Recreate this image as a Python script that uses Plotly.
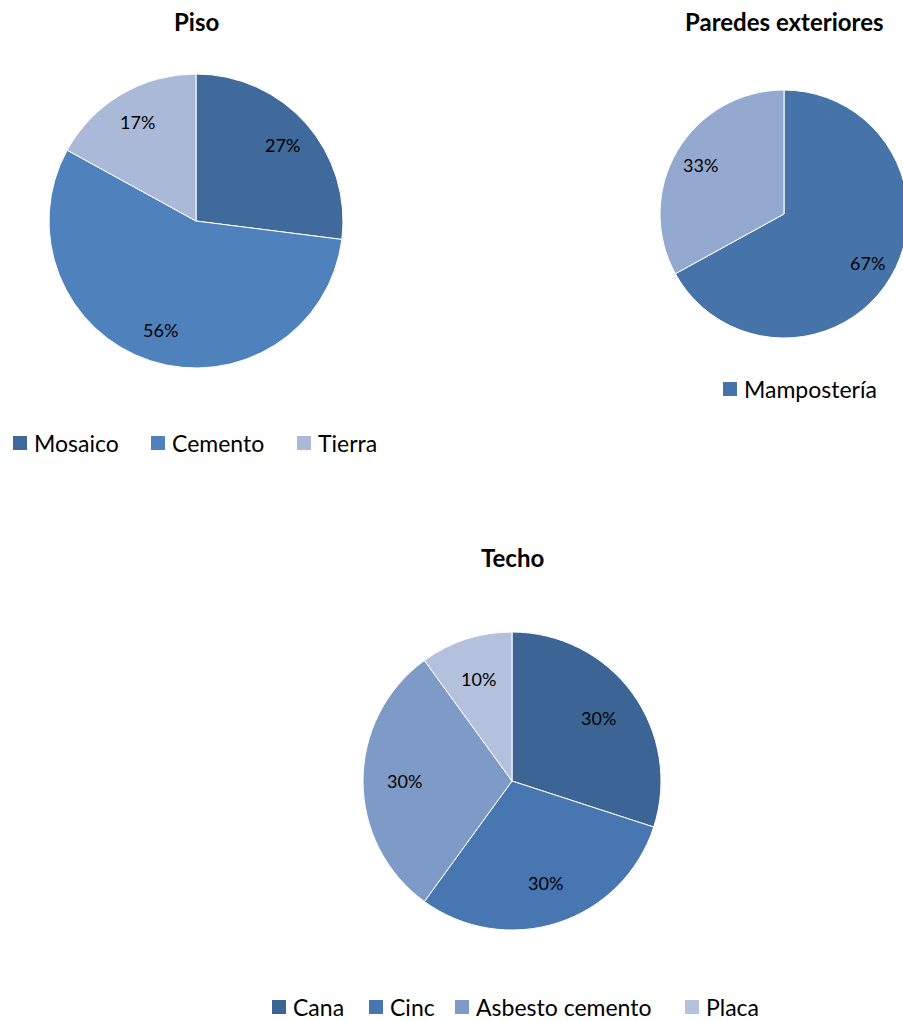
import math
import plotly.graph_objects as go

W, H = 910, 1021  # figure slightly wider than the window: right pie is cut at the edge

# ---- data ----
piso_labels = ["Mosaico", "Cemento", "Tierra"]
piso_values = [27, 56, 17]
piso_colors = ["#3F6A9B", "#4F81BD", "#AAB9D7"]

paredes_labels = ["Mampostería", ""]
paredes_values = [67, 33]
paredes_colors = ["#4674A8", "#93A9CF"]

techo_labels = ["Cana", "Cinc", "Asbesto cemento", "Placa"]
techo_values = [30, 30, 30, 10]
techo_colors = ["#3C6596", "#4776B0", "#7E9BC8", "#B3C1DD"]

FONT = "Lato"


def px(x):
    return x / W


def py(y):
    return 1 - y / H


def dom(cx, cy, r):
    return dict(x=[px(cx - r), px(cx + r)], y=[py(cy + r), py(cy - r)])


annotations = []
shapes = []


def add_pie(fig, labels, values, colors, cx, cy, r, frac=0.78):
    fig.add_trace(go.Pie(
        labels=[l if l else " " for l in labels], values=values, sort=False,
        direction="clockwise", rotation=0, domain=dom(cx, cy, r),
        marker=dict(colors=colors, line=dict(color="white", width=1)),
        textinfo="none", showlegend=False, hoverinfo="label+percent",
    ))
    # data labels placed like Excel's (percent of total at the slice mid-angle)
    total = sum(values)
    cum = 0
    for v in values:
        mid = (cum + v / 2) / total * 2 * math.pi
        cum += v
        lx = cx + frac * r * math.sin(mid)
        ly = cy - frac * r * math.cos(mid)
        annotations.append(dict(text=f"{round(100 * v / total)}%", x=px(lx), y=py(ly),
                                xref="paper", yref="paper", showarrow=False,
                                xanchor="center", yanchor="middle",
                                font=dict(family=FONT, size=18, color="black")))


def title(text, x, y):
    annotations.append(dict(text=f"<b>{text}</b>", x=px(x), y=py(y), xref="paper", yref="paper",
                            showarrow=False, xanchor="center", yanchor="middle",
                            font=dict(family=FONT, size=24, color="black")))


def legend(labels, colors, xs, y):
    for lab, col, x in zip(labels, colors, xs):
        if not lab:
            continue
        s = 14
        shapes.append(dict(type="rect", xref="paper", yref="paper",
                           x0=px(x), x1=px(x + s), y0=py(y + s / 2), y1=py(y - s / 2),
                           fillcolor=col, line=dict(width=0)))
        annotations.append(dict(text=lab, x=px(x + s + 5), y=py(y), xref="paper", yref="paper",
                                showarrow=False, xanchor="left", yanchor="middle",
                                font=dict(family=FONT, size=23, color="black")))


fig = go.Figure()
add_pie(fig, piso_labels, piso_values, piso_colors, 196, 221, 147)
add_pie(fig, paredes_labels, paredes_values, paredes_colors, 784, 214, 124)
add_pie(fig, techo_labels, techo_values, techo_colors, 512, 781, 149, frac=0.72)

title("Piso", 196, 21)
title("Paredes exteriores", 784, 21)
title("Techo", 512, 557)

legend(piso_labels, piso_colors, [13, 151, 297], 443)
legend(paredes_labels, paredes_colors, [723], 389)
legend(techo_labels, techo_colors, [272, 369, 455, 685], 1007)

fig.update_layout(width=W, height=H, margin=dict(l=0, r=0, t=0, b=0),
                  paper_bgcolor="white", plot_bgcolor="white",
                  annotations=annotations, shapes=shapes, showlegend=False)

fig.write_html("out.html", config={"displayModeBar": False},
               post_script="document.body.style.margin='0';document.body.style.overflow='hidden';")
